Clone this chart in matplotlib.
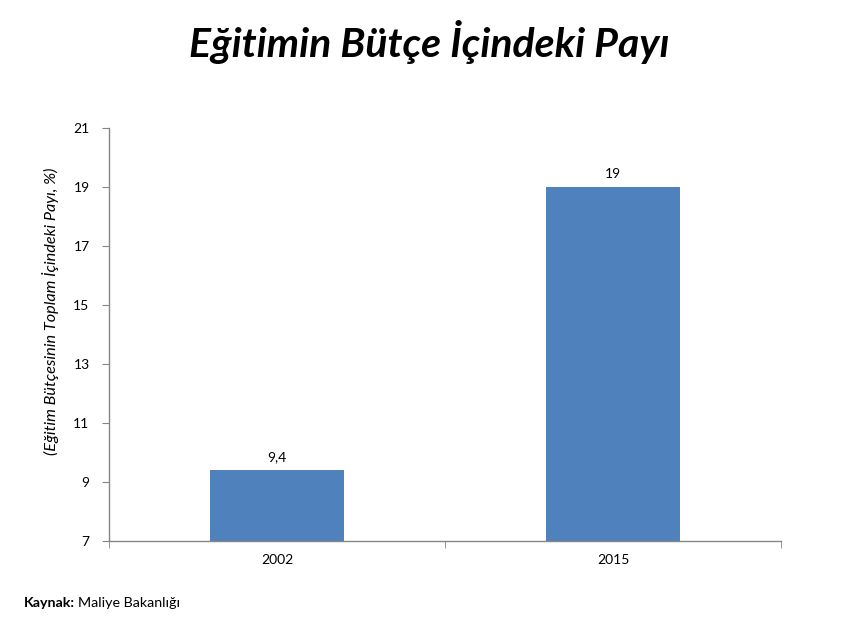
import matplotlib
matplotlib.use("Agg")
import matplotlib.pyplot as plt
from matplotlib.ticker import FixedLocator

categories = ["2002", "2015"]
values = [9.4, 19]
value_labels = ["9,4", "19"]
yticks = [7, 9, 11, 13, 15, 17, 19, 21]

plt.rcParams['font.family'] = ['Lato', 'DejaVu Sans']

fig = plt.figure(figsize=(8.58, 6.36), dpi=100)
ax = fig.add_axes([109/858, 1-541/636, (781-109)/858, (541-128)/636])

x = list(range(len(categories)))
bars = ax.bar(x, values, width=0.4, color="#4F81BD", zorder=2, bottom=0)
ax.set_xlim(-0.5, len(categories) - 0.5)
ax.set_ylim(7, 21)
ax.set_yticks(yticks)
ax.set_yticklabels([str(t) for t in yticks], fontsize=10)
ax.set_xticks(x)
ax.set_xticklabels(categories, fontsize=10)
ax.tick_params(axis='x', which='major', length=0, pad=9)
ax.xaxis.set_minor_locator(FixedLocator([-0.5, 0.5, 1.5]))
ax.tick_params(axis='x', which='minor', length=5, color="#868686", direction='out')
ax.tick_params(axis='y', length=5, color="#868686", direction='out', pad=9)

for s in ['top', 'right']:
    ax.spines[s].set_visible(False)
for s in ['left', 'bottom']:
    ax.spines[s].set_color("#868686")
    ax.spines[s].set_linewidth(1)

for xi, v, lab in zip(x, values, value_labels):
    ax.annotate(lab, (xi, v), xytext=(0, 5), textcoords='offset points',
                ha='center', va='bottom', fontsize=10)

ax.set_ylabel("(Eğitim Bütçesinin Toplam İçindeki Payı, %)", fontsize=11.7,
              style='italic')
ax.yaxis.set_label_coords(-0.074, 0.557)

fig.text(429/858, 1-42/636, "Eğitimin Bütçe İçindeki Payı", ha='center', va='center',
         fontsize=29.5, style='italic', fontweight='bold')

fig.text(24/858, 1-603/636, "Kaynak:", ha='left', va='center', fontsize=10.3, fontweight='bold')
fig.text(78/858, 1-603/636, "Maliye Bakanlığı", ha='left', va='center', fontsize=10.3)

fig.savefig("out.png", dpi=100)
